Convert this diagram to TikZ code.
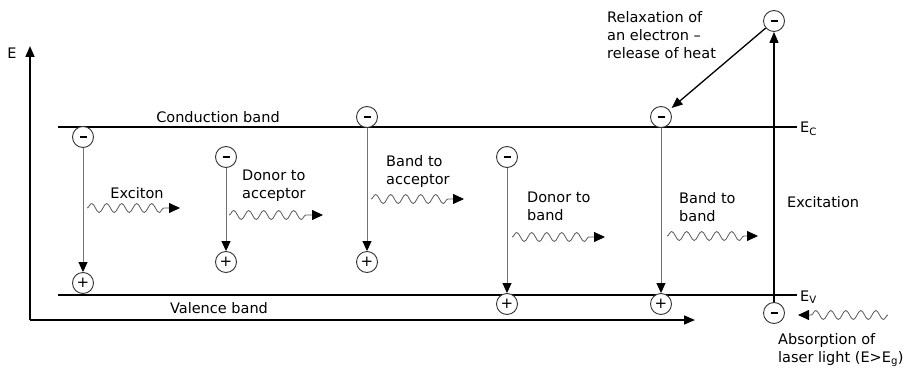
\documentclass[tikz,border=0pt]{standalone}
\usepackage{fontspec}
\setmainfont{DejaVu Sans}
\usetikzlibrary{arrows.meta,decorations.pathmorphing}
\newcommand{\minussign}{\rule[-1.3pt]{7pt}{2.6pt}}
\begin{document}
\begin{tikzpicture}[x=1pt,y=-1pt,
  charge/.style={circle, draw=black!80, line width=0.9pt, minimum size=21pt, inner sep=0pt, fill=white,
    font=\fontsize{15}{15}\selectfont},
  bandline/.style={line width=1.6pt},
  axisline/.style={line width=1.6pt, -{Triangle[length=11pt,width=9pt]}},
  lbl/.style={font=\fontsize{14.5}{18}\selectfont, align=left, inner sep=0pt, text=black},
  trans/.style={draw=black!55, line width=0.9pt, -{Triangle[length=10pt,width=9pt,color=black]}},
  bold/.style={draw=black, line width=1.3pt, -{Triangle[length=11pt,width=9pt]}},
  wave/.style={draw=black!65, line width=0.8pt, decorate,
    decoration={snake, amplitude=4.5pt, segment length=15pt, post length=13pt},
    -{Triangle[length=11pt,width=10pt,color=black]}}
]
\useasboundingbox (0,0) rectangle (910,369);

% axes
\coordinate (O) at (30,320);
\coordinate (Etop) at (30,46);
\coordinate (Xend) at (695,320);
\draw[axisline] (O) -- (Etop);
\draw[axisline] (O) -- (Xend);
\node[lbl] (Elab) at (12,53) {E};

% bands
\coordinate (cbL) at (58,127);
\coordinate (cbR) at (797,127);
\coordinate (vbL) at (58,295);
\coordinate (vbR) at (797,295);
\draw[bandline] (cbL) -- (cbR);
\draw[bandline] (vbL) -- (vbR);
\node[lbl] (cbtxt) at (218,117) {Conduction band};
\node[lbl] (vbtxt) at (219,308) {Valence band};
\node[lbl, anchor=west] (Ec) at (800,129) {E\textsubscript{C}};
\node[lbl, anchor=west] (Ev) at (800,297) {E\textsubscript{V}};

% charges
\node[charge] (e1) at (83,137) {\minussign};
\node[charge] (h1) at (83,283) {+};
\node[charge] (e2) at (226,157) {\minussign};
\node[charge] (h2) at (226,262) {+};
\node[charge] (e3) at (367,117) {\minussign};
\node[charge] (h3) at (367,262) {+};
\node[charge] (e4) at (507,157) {\minussign};
\node[charge] (h4) at (507,304) {+};
\node[charge] (e5) at (661,117) {\minussign};
\node[charge] (h5) at (661,304) {+};
\node[charge] (et) at (774,21) {\minussign};
\node[charge] (eb) at (774,313) {\minussign};

% transitions
\draw[trans] (e1) -- (h1);
\draw[trans] (e2) -- (h2);
\draw[trans] (e3) -- (h3);
\draw[trans] (e4) -- (h4);
\draw[trans] (e5) -- (h5);
\draw[bold] (eb) -- (et);
\draw[bold, shorten >=3pt] (et) -- (e5);

% photons
\coordinate (w1a) at (87,208);  \coordinate (w1b) at (180,208);
\coordinate (w2a) at (229,215); \coordinate (w2b) at (323,215);
\coordinate (w3a) at (371,199); \coordinate (w3b) at (464,199);
\coordinate (w4a) at (512,237); \coordinate (w4b) at (605,237);
\coordinate (w5a) at (667,236); \coordinate (w5b) at (758,236);
\coordinate (w6a) at (888,315); \coordinate (w6b) at (798,315);
\draw[wave] (w1a) -- (w1b);
\draw[wave] (w2a) -- (w2b);
\draw[wave] (w3a) -- (w3b);
\draw[wave] (w4a) -- (w4b);
\draw[wave] (w5a) -- (w5b);
\draw[wave] (w6a) -- (w6b);

% labels
\node[lbl] (t1) at (137,193) {Exciton};
\node[lbl, anchor=west] (t2) at (242,186) {Donor to\\acceptor};
\node[lbl, anchor=west] (t3) at (386,171) {Band to\\acceptor};
\node[lbl, anchor=west] (t4) at (527,206) {Donor to\\band};
\node[lbl, anchor=west] (t5) at (679,207) {Band to\\band};
\node[lbl, anchor=west] (t6) at (787,202) {Excitation};
\node[lbl, anchor=west] (t7) at (607,35) {Relaxation of\\an electron –\\release of heat};
\node[lbl, anchor=west] (t8) at (778,350) {Absorption of\\laser light (E>E\textsubscript{g})};
\end{tikzpicture}
\end{document}
